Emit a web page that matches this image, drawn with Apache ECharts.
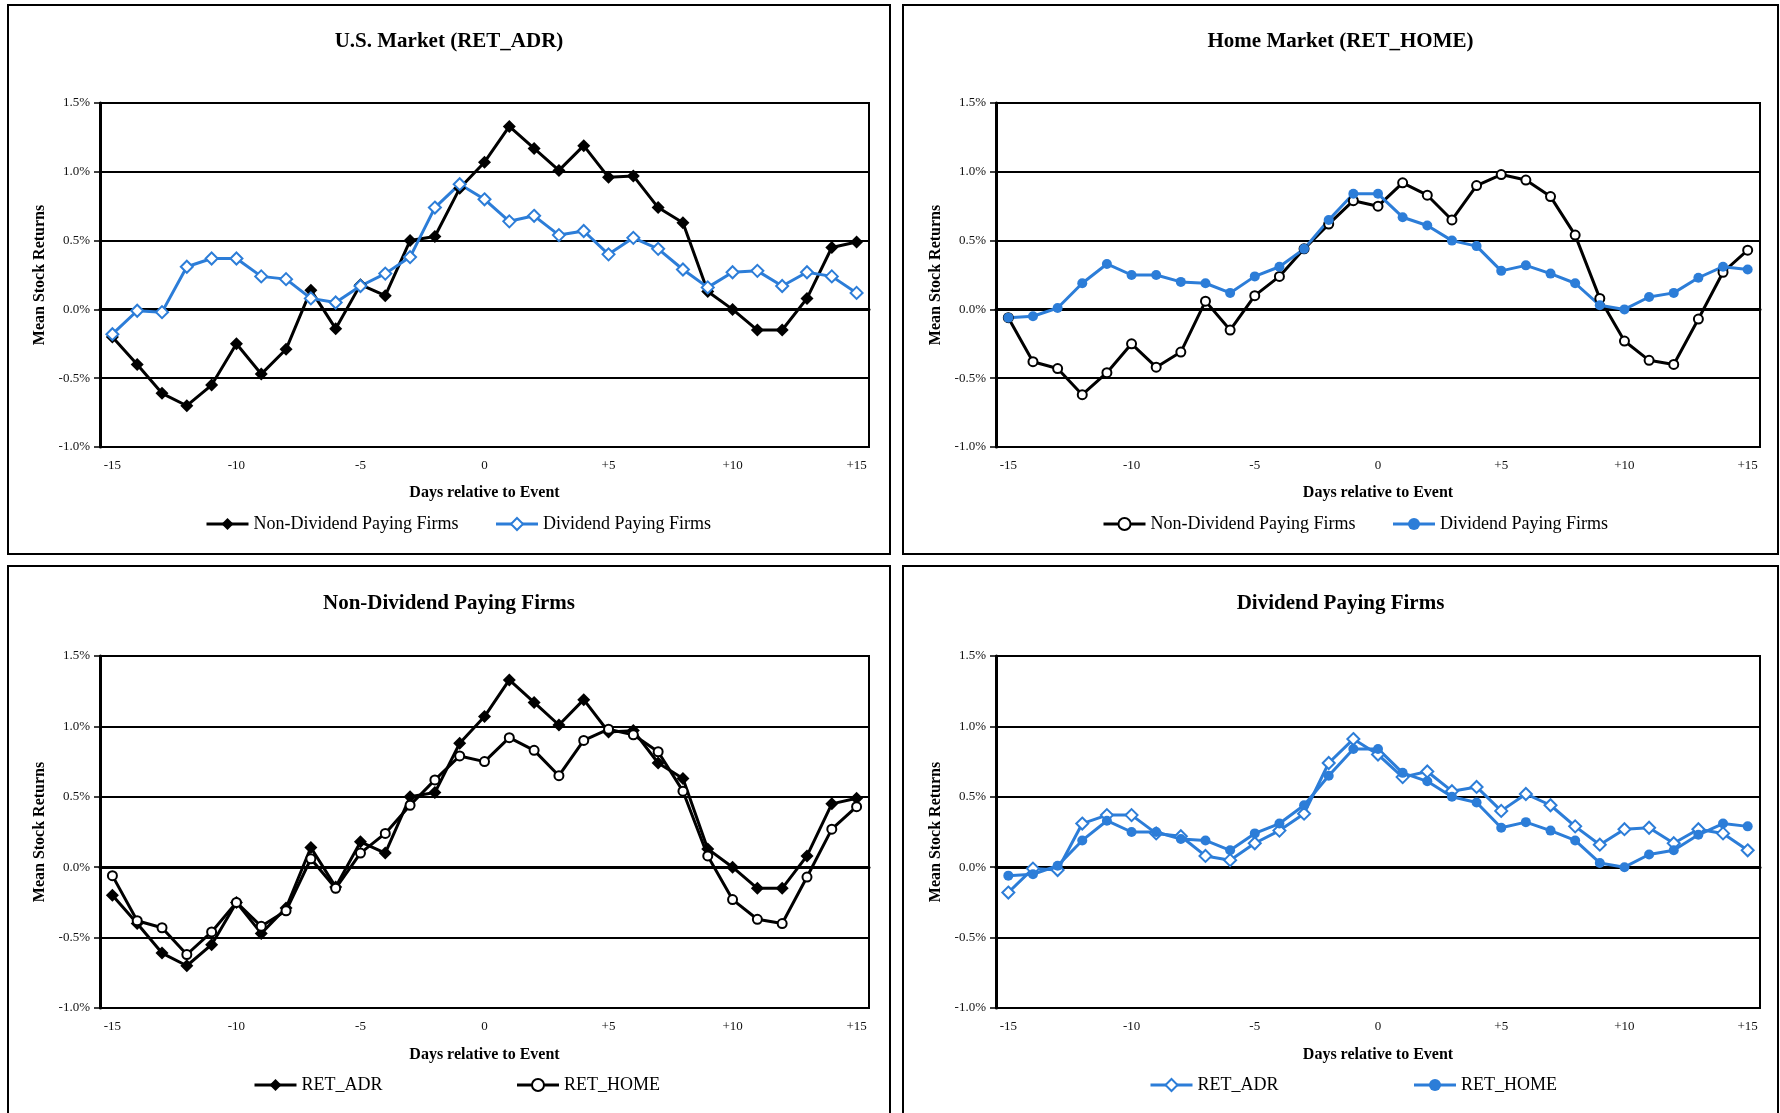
<!DOCTYPE html>
<html>
<head>
<meta charset="utf-8">
<title>Mean Stock Returns around the Event</title>
<script src="https://cdn.jsdelivr.net/npm/echarts@6/dist/echarts.min.js"></script>
<style>
  html, body { margin: 0; padding: 0; background: #fff; overflow: hidden; width: 1780px; height: 1113px; }
  .panel { position: absolute; }
</style>
</head>
<body>
<div id="usMarket" class="panel" style="left:7px;top:4px;width:884px;height:551px"></div>
<div id="homeMarket" class="panel" style="left:902px;top:4px;width:877px;height:551px"></div>
<div id="nonDividend" class="panel" style="left:7px;top:565px;width:884px;height:551px"></div>
<div id="dividend" class="panel" style="left:902px;top:565px;width:877px;height:551px"></div>
<script>
// Event window: days -15 .. +15
const days = ['-15','-14','-13','-12','-11','-10','-9','-8','-7','-6','-5','-4','-3','-2','-1','0',
              '+1','+2','+3','+4','+5','+6','+7','+8','+9','+10','+11','+12','+13','+14','+15'];

// Mean stock returns (%), U.S. market (RET_ADR)
const adrNonDividend = [-0.20,-0.40,-0.61,-0.70,-0.55,-0.25,-0.47,-0.29,0.14,-0.14,0.18,0.10,0.50,0.53,0.88,1.07,
                        1.33,1.17,1.01,1.19,0.96,0.97,0.74,0.63,0.13,0.00,-0.15,-0.15,0.08,0.45,0.49];
const adrDividend = [-0.18,-0.01,-0.02,0.31,0.37,0.37,0.24,0.22,0.08,0.05,0.17,0.26,0.38,0.74,0.91,0.80,
                     0.64,0.68,0.54,0.57,0.40,0.52,0.44,0.29,0.16,0.27,0.28,0.17,0.27,0.24,0.12];

// Mean stock returns (%), home market (RET_HOME)
const homeNonDividend = [-0.06,-0.38,-0.43,-0.62,-0.46,-0.25,-0.42,-0.31,0.06,-0.15,0.10,0.24,0.44,0.62,0.79,0.75,
                         0.92,0.83,0.65,0.90,0.98,0.94,0.82,0.54,0.08,-0.23,-0.37,-0.40,-0.07,0.27,0.43];
const homeDividend = [-0.06,-0.05,0.01,0.19,0.33,0.25,0.25,0.20,0.19,0.12,0.24,0.31,0.44,0.65,0.84,0.84,
                      0.67,0.61,0.50,0.46,0.28,0.32,0.26,0.19,0.03,0.00,0.09,0.12,0.23,0.31,0.29];

// Y axis scale (%)
const yMin = -1.0, yMax = 1.5, yStep = 0.5;

const FONT = 'Liberation Serif';
const BLUE = '#2C7DD8';

const markers = {
  blackDiamond:    { symbol: 'diamond', symbolSize: 13, line: '#000', itemStyle: { color: '#000' } },
  blueOpenDiamond: { symbol: 'diamond', symbolSize: 12, line: BLUE, itemStyle: { color: '#fff', borderColor: BLUE, borderWidth: 2 } },
  blackOpenCircle: { symbol: 'circle', symbolSize: 9, line: '#000', itemStyle: { color: '#fff', borderColor: '#000', borderWidth: 2 } },
  blueDot:         { symbol: 'circle', symbolSize: 10, line: BLUE, itemStyle: { color: BLUE } }
};

function lineSeries(name, values, m) {
  return {
    type: 'line',
    name: name,
    data: values,
    symbol: m.symbol,
    symbolSize: m.symbolSize,
    showAllSymbol: true,
    lineStyle: { color: m.line, width: 3 },
    itemStyle: m.itemStyle,
    emphasis: { disabled: true },
    animation: false
  };
}

function drawPanel(id, cfg) {
  const el = document.getElementById(id);
  const W = el.clientWidth, H = el.clientHeight;
  const chart = echarts.init(el, null, { renderer: 'canvas' });
  chart.setOption({
    animation: false,
    graphic: [{
      type: 'rect', silent: true, z: 100,
      shape: { x: 1, y: 1, width: W - 2, height: H - 2 },
      style: { fill: null, stroke: '#000', lineWidth: 2 }
    }],
    title: {
      text: cfg.title, left: 'center', top: cfg.titleTop,
      textStyle: { fontFamily: FONT, fontSize: 21, fontWeight: 'bold', color: '#000' }
    },
    grid: Object.assign({ show: true, borderColor: '#000', borderWidth: 2, backgroundColor: 'transparent' }, cfg.grid),
    xAxis: {
      type: 'category', data: days, boundaryGap: true,
      name: 'Days relative to Event', nameLocation: 'middle', nameGap: cfg.xNameGap,
      nameTextStyle: { fontFamily: FONT, fontSize: 16, fontWeight: 'bold', color: '#000' },
      axisLine: { lineStyle: { color: '#000', width: 3 } },
      axisTick: { interval: 0, length: 5, lineStyle: { color: '#000', width: 2 } },
      axisLabel: { interval: 4, margin: 12, fontFamily: FONT, fontSize: 13, color: '#111' },
      splitLine: { show: false }
    },
    yAxis: {
      type: 'value', min: yMin, max: yMax, interval: yStep,
      name: 'Mean Stock Returns', nameLocation: 'middle', nameGap: 50,
      nameTextStyle: { fontFamily: FONT, fontSize: 16, fontWeight: 'bold', color: '#000' },
      axisLine: { show: true, lineStyle: { color: '#000', width: 3 } },
      axisTick: { show: true, length: 6, lineStyle: { color: '#000', width: 1.5 } },
      axisLabel: { formatter: v => v.toFixed(1) + '%', margin: 10, fontFamily: FONT, fontSize: 13, color: '#111' },
      splitLine: { show: true, lineStyle: { color: '#000', width: 2 } }
    },
    legend: {
      left: cfg.legendLeft, top: cfg.legendTop, orient: 'horizontal',
      itemWidth: 42, itemHeight: 15, itemGap: cfg.itemGap,
      selectedMode: false,
      lineStyle: { width: 3 },
      textStyle: { fontFamily: FONT, fontSize: 18, color: '#000' },
      data: cfg.series.map(s => s.name)
    },
    series: cfg.series
  });
}

drawPanel('usMarket', {
  title: 'U.S. Market (RET_ADR)', titleTop: 22, xNameGap: 38,
  grid: { left: 93, top: 99, width: 769, height: 344 },
  legendLeft: 193, legendTop: 506, itemGap: 36,
  series: [
    lineSeries('Non-Dividend Paying Firms', adrNonDividend, markers.blackDiamond),
    lineSeries('Dividend Paying Firms', adrDividend, markers.blueOpenDiamond)
  ]
});

drawPanel('homeMarket', {
  title: 'Home Market (RET_HOME)', titleTop: 22, xNameGap: 38,
  grid: { left: 94, top: 99, width: 764, height: 344 },
  legendLeft: 195, legendTop: 506, itemGap: 36,
  series: [
    lineSeries('Non-Dividend Paying Firms', homeNonDividend, markers.blackOpenCircle),
    lineSeries('Dividend Paying Firms', homeDividend, markers.blueDot)
  ]
});

drawPanel('nonDividend', {
  title: 'Non-Dividend Paying Firms', titleTop: 23, xNameGap: 39,
  grid: { left: 93, top: 91, width: 769, height: 352 },
  legendLeft: 241, legendTop: 506, itemGap: 133,
  series: [
    lineSeries('RET_ADR', adrNonDividend, markers.blackDiamond),
    lineSeries('RET_HOME', homeNonDividend, markers.blackOpenCircle)
  ]
});

drawPanel('dividend', {
  title: 'Dividend Paying Firms', titleTop: 23, xNameGap: 39,
  grid: { left: 94, top: 91, width: 764, height: 352 },
  legendLeft: 242, legendTop: 506, itemGap: 134,
  series: [
    lineSeries('RET_ADR', adrDividend, markers.blueOpenDiamond),
    lineSeries('RET_HOME', homeDividend, markers.blueDot)
  ]
});
</script>
</body>
</html>
